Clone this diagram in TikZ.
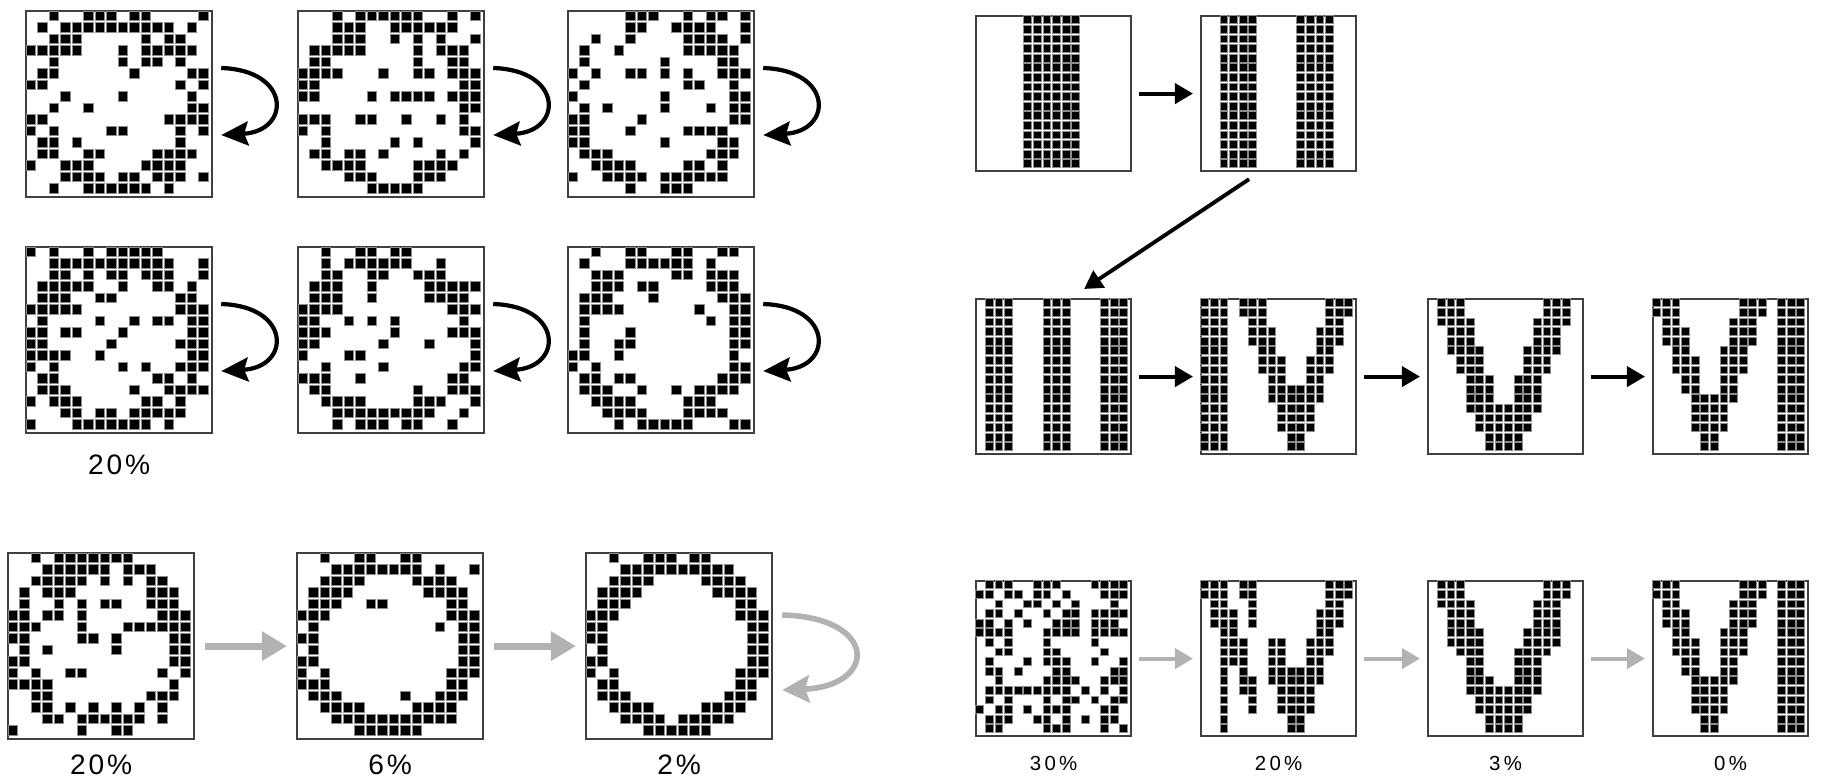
\documentclass[tikz,border=0pt]{standalone}
\usepackage{fontspec}
\setmainfont{Liberation Sans}
\newfontfamily\pctfont[LetterSpace=10]{Liberation Sans}
\newfontfamily\pctsmall[LetterSpace=16]{Liberation Sans}
\usetikzlibrary{arrows.meta,positioning}

\tikzset{
  bigpanel/.style={draw=black!75, line width=0.6pt, inner sep=0pt, minimum size=1.86cm, anchor=north west},
  smallpanel/.style={bigpanel, minimum size=1.55cm},
  pixcell/.style={fill=black, draw=black!45, line width=0.2pt},
  blackarrow/.style={line width=1.1pt, -{Triangle[length=0.18cm,width=0.2cm]}, shorten <=0.07cm, shorten >=0.07cm},
  grayarrow/.style={blackarrow, draw=black!30},
  fatgray/.style={line width=2pt, draw=black!30, -{Triangle[length=0.25cm,width=0.28cm]}, shorten <=0.1cm, shorten >=0.09cm},
  loopblack/.style={line width=1.2pt, -{Stealth[length=0.27cm,width=0.24cm,inset=0.04cm]}},
  loopgray/.style={line width=1.6pt, draw=black!30, -{Stealth[length=0.27cm,width=0.27cm,inset=0.04cm]}},
  pctbig/.style={font=\pctfont\fontsize{8}{9}\selectfont, inner sep=0pt},
  pctlow/.style={font=\pctsmall\fontsize{5.8}{6.5}\selectfont, inner sep=0pt}
}

% one string per row, X = black cell
\newcount\pixcol
\newcommand\pixgrid[4]{%
  \def\pixpitch{#2}\def\pixoff{#3}%
  \begin{scope}[shift={(#1.north west)}]
    \foreach \pixrow [count=\rowno from 0] in #4 {%
      \pixcol=0
      \expandafter\pixscan\pixrow\relax}
  \end{scope}}
\def\pixscan#1{%
  \ifx#1\relax\else
    \if#1X\fill[pixcell] ({\the\pixcol*\pixpitch+\pixoff},{\rowno*\pixpitch+\pixoff}) rectangle +(\pixpitch-1.8,\pixpitch-1.8);\fi
    \advance\pixcol by 1
    \expandafter\pixscan
  \fi}

\def\ringA{{--X--XXX-XX----X},{-X-XXXXXXXXXX-X-},{--XXX-----X-XX--},{XXXXX---X-XXXXX-},
  {--X-----X-XX-X--},{-XX------X----XX},{XX-----------X-X},{---X----X-----X-},
  {--X--X--------XX},{XX----------XXXX},{X-X----XX----X-X},{-XX-X--------X--},
  {-XX--XX----XXXX-},{X--XXX----XXXX--},{---XXXX-XX-XXX-X},{--X--XXXXXX-X---}}
\def\ringB{{---X-XXXXXX--X-X},{---XXX--XXXXXX--},{---XXX--X-X-X--X},{-XXXXX----X-XXX-},
  {-XX-------X--XX-},{XXXX---X--XX-XXX},{XX------------XX},{XX----X-XXXX-XXX},
  {--------------XX},{XXX--XX--X--X-X-},{X-X-----------XX},{--X-----X-X----X},
  {-XX-XX-X----X-X-},{--XXXX----XXXX--},{----XXX---XXX---},{------XXXXX-----}}
\def\ringC{{-----XXX--X-XX-X},{-----XX--XXXX--X},{--X--X----XXXX-X},{-X--X-----XXXXX-},
  {-X------X----XX-},{X-X--XX-X-X--XXX},{-X--------XX--X-},{X-------X-----XX},
  {-X-X----X---X-XX},{XX----X-------XX},{XX---X----XXXX--},{XX------X----XX-},
  {-XXX--------XXX-},{--XXXX----XX-X--},{X--XXXX-XXXXXX--},{-----X--XXX-----}}
\def\ringD{{X-X--X-XXXXX----},{--XXXXXXXXXXX--X},{--XX-X-XX-XXX--X},{-XXXXX--X--XX-X-},
  {-XXX--XX-----XX-},{XXXXX--------XXX},{-X----X--X-XX-XX},{XX-XX---X-----XX},
  {XX-----X-----XXX},{XXXX--X-------XX},{X-X-----X-X--XXX},{-XX--------XX-X-},
  {-XXX-----X--XXXX},{X-XXX-----XX-X--},{---XX-XX-XXXXX--},{X---XXXXXXX-X---}}
\def\ringE{{--X--XX-XX------},{--X-XXXXXX--X---},{--XX--XX--XXX---},{-XXX--X----XXXXX},
  {-XXX--X----XXXX-},{XXXX---------XXX},{XX--X-X-X-----X-},{XXX-----X----XXX},
  {XX-----X---X---X},{X---XX---------X},{--X----X------XX},{XXX--X-------XX-},
  {-XX-------X--XXX},{--XXXX----XXX--X},{---XXXXXXXXX--X-},{---X-XXX-XX--X--}}
\def\ringF{{--X--XX--XX--XX-},{-X---XXXXXX-X---},{--XXX----XX-XXX-},{--XXX-XX----XXX-},
  {-XXX---X-----XXX},{-XXXX------X--XX},{-X----------X-XX},{-X---X--------XX},
  {-X--XX--------XX},{XX--X---------X-},{X-X-----------XX},{-XX-XX-------XXX},
  {-XXX--X--X-XXXX-},{--XXXX----XXX---},{---XXXX---XXXX--},{----X-XXXXX---XX}}
\def\ringG{{--X-XXXXXXX-----},{---XXXXXX-XXX---},{--XXXXX-X-X-XX--},{-X-XXX------XXX-},
  {-X--X-X-XX--XXX-},{XX-XX-X------XXX},{XXX---X---XXXXXX},{XX----XX-X----XX},
  {-X-X-----X----XX},{XX------------XX},{X-X--XX------X-X},{XXXX----------X-},
  {--XX--------XXX-},{--XX-X-X-X-X-X--},{---XX-XXXXXX-X--},{X-----X--XX-----}}
\def\ringH{{--X--XX--XX-----},{---XXXXXXXX-X--X},{--XXXX----XXXX--},{-XXXX------XXXX-},
  {-XXX--XX-----XX-},{XXX----------XXX},{-X----------X-XX},{XX------------XX},
  {-X------------XX},{XX------------XX},{X-X----------XXX},{XXX----------XX-},
  {-XXX-----X--XXX-},{--XXXX----XXXX--},{---XXXXXXXXXXX--},{-----XXXXXX-----}}
\def\ringI{{--X--XXX-XX-----},{---XXXXXXXXXX---},{--XXXX----XXXX--},{-XXXX------XXXX-},
  {-XXX---------XX-},{XXX----------XXX},{XX------------XX},{XX------------XX},
  {-X------------XX},{XX------------XX},{X-X----------XXX},{-XX----------XX-},
  {-XXX--------XXX-},{--XXXX----XXXX--},{---XXXX-XXXXX---},{-----XXXXXX-----}}

\def\stripeA{{-----XXXXXX-----},{-----XXXXXX-----},{-----XXXXXX-----},{-----XXXXXX-----},
  {-----XXXXXX-----},{-----XXXXXX-----},{-----XXXXXX-----},{-----XXXXXX-----},
  {-----XXXXXX-----},{-----XXXXXX-----},{-----XXXXXX-----},{-----XXXXXX-----},
  {-----XXXXXX-----},{-----XXXXXX-----},{-----XXXXXX-----},{-----XXXXXX-----}}
\def\stripeB{{--XXXX----XXXX--},{--XXXX----XXXX--},{--XXXX----XXXX--},{--XXXX----XXXX--},
  {--XXXX----XXXX--},{--XXXX----XXXX--},{--XXXX----XXXX--},{--XXXX----XXXX--},
  {--XXXX----XXXX--},{--XXXX----XXXX--},{--XXXX----XXXX--},{--XXXX----XXXX--},
  {--XXXX----XXXX--},{--XXXX----XXXX--},{--XXXX----XXXX--},{--XXXX----XXXX--}}
\def\stripeC{{-XXX---XXX---XXX},{-XXX---XXX---XXX},{-XXX---XXX---XXX},{-XXX---XXX---XXX},
  {-XXX---XXX---XXX},{-XXX---XXX---XXX},{-XXX---XXX---XXX},{-XXX---XXX---XXX},
  {-XXX---XXX---XXX},{-XXX---XXX---XXX},{-XXX---XXX---XXX},{-XXX---XXX---XXX},
  {-XXX---XXX---XXX},{-XXX---XXX---XXX},{-XXX---XXX---XXX},{-XXX---XXX---XXX}}
\def\veeA{{XXX-XXX------XXX},{XXX-XXX------XXX},{XXX--XX------XX-},{XXX--XXX----XXX-},
  {XXX--XXX----XXX-},{XXX---XX----XX--},{XXX---XXX--XXX--},{XXX---XXX--XXX--},
  {XXX----XX--XX---},{XXX----XXXXXX---},{XXX----XXXXXX---},{XXX-----XXXX----},
  {XXX-----XXXX----},{XXX-----XXXX----},{XXX------XX-----},{XXX------XX-----}}
\def\veeB{{-XXX--------XXX-},{-XXX--------XXX-},{-XXXX------XXXX-},{--XXX------XXX--},
  {--XXX------XXX--},{--XXXX----XXXX--},{---XXX----XXX---},{---XXX----XXX---},
  {----XXX--XXX----},{----XXX--XXX----},{----XXX--XXX----},{----XXXXXXXX----},
  {-----XXXXXX-----},{-----XXXXXX-----},{------XXXX------},{------XXXX------}}
\def\veeC{{XXX------XXX-XXX},{XXX------XXX-XXX},{-XX-----XXX--XXX},{-XXX----XXX--XXX},
  {-XXX----XXX--XXX},{--XX---XXX---XXX},{--XXX--XXX---XXX},{--XXX--XXX---XXX},
  {---XX--XX----XXX},{---XX--XX----XXX},{----XXXXX----XXX},{----XXXX-----XXX},
  {----XXXX-----XXX},{----XXXX-----XXX},{-----XX------XXX},{-----XX------XXX}}
\def\veeD{{-XXX--------XXX-},{-XXX--------XXX-},{-XXXX------XXX--},{--XXX------XXX--},
  {--XXX------XXX--},{--XXXX----XXXX--},{--XXXX----XXXX--},{---XXX---XXXX---},
  {----XX---XXX----},{----XX---XXX----},{----XXX--XXX----},{----XXXXXXXX----},
  {-----XXXXXX-----},{-----XXXXXX-----},{------XXXX------},{------XXXX------}}
\def\noiseA{{-XXX--XXX---XXXX},{XX-XX-XX-X---XXX},{--X--XX-X-X---X-},{-XX-X--X-XX-XXXX},
  {XX-X-X--XXX-XXX-},{XXXX---XXXX-XXXX},{-X-X---X----X---},{--XX---XX----X--},
  {-X---X-XXX--X--X},{-XX-X---XX----XX},{--X----XXXX--XXX},{-XXXXXXXXX-X-X-X},
  {-X-X---X-XX-X-XX},{X-XX-X-XXX---XX-},{-XXX--XX-X-X-XX-},{-XX----XXX---X-X}}
\def\noiseB{{XXX-XX-------XXX},{XXX-XX-------XXX},{-XX--X-------XX-},{-XXX-X------XXX-},
  {-XXX-X------XXX-},{--XX--------XX--},{--XXX--XX--XXX--},{--XXX--XX--XXX--},
  {--XXX--XX--XX---},{--X-X--XXXXXX---},{--X-XX-XXXXXX---},{--X-XX--XXXX----},
  {--X--X--XXXX----},{--X--X--XXXX----},{--X------XX-----},{--X------XX-----}}

\begin{document}
\begin{tikzpicture}[x=0.01cm, y=-0.01cm]
\useasboundingbox (0,0) rectangle (1826,780);

% circle patterns
\node[bigpanel] (lt1) at (25,10) {};
\node[bigpanel] (lt2) at (297,10) {};
\node[bigpanel] (lt3) at (567,10) {};
\node[bigpanel] (lm1) at (25,246) {};
\node[bigpanel] (lm2) at (297,246) {};
\node[bigpanel] (lm3) at (567,246) {};
\node[bigpanel] (lb1) at (7,552) {};
\node[bigpanel] (lb2) at (296,552) {};
\node[bigpanel] (lb3) at (585,552) {};
\pixgrid{lt1}{11.5}{1}{\ringA}
\pixgrid{lt2}{11.5}{1}{\ringB}
\pixgrid{lt3}{11.5}{1}{\ringC}
\pixgrid{lm1}{11.5}{1}{\ringD}
\pixgrid{lm2}{11.5}{1}{\ringE}
\pixgrid{lm3}{11.5}{1}{\ringF}
\pixgrid{lb1}{11.5}{1}{\ringG}
\pixgrid{lb2}{11.5}{1}{\ringH}
\pixgrid{lb3}{11.5}{1}{\ringI}

\foreach \p in {lt1,lt2,lt3,lm1,lm2,lm3}
  \draw[loopblack] ([xshift=0.08cm,yshift=-0.58cm]\p.north east) .. controls +(70,2) and +(70,-4) .. ([xshift=0.08cm,yshift=-1.25cm]\p.north east);
\draw[loopgray] ([xshift=0.09cm,yshift=-0.63cm]lb3.north east) .. controls +(96,2) and +(96,-4) .. ([xshift=0.09cm,yshift=-1.38cm]lb3.north east);
\draw[fatgray] (lb1) -- (lb2);
\draw[fatgray] (lb2) -- (lb3);

\node[pctbig, below=0.2cm of lm1] (plm1) {20\%};
\node[pctbig, below=0.14cm of lb1] (plb1) {20\%};
\node[pctbig, below=0.14cm of lb2] (plb2) {6\%};
\node[pctbig, below=0.14cm of lb3] (plb3) {2\%};

% stripes and V
\node[smallpanel] (rt1) at (975,15) {};
\node[smallpanel] (rt2) at (1200,15) {};
\node[smallpanel] (rm1) at (975,298) {};
\node[smallpanel] (rm2) at (1200,298) {};
\node[smallpanel] (rm3) at (1427,298) {};
\node[smallpanel] (rm4) at (1652,298) {};
\node[smallpanel] (rb1) at (975,580) {};
\node[smallpanel] (rb2) at (1200,580) {};
\node[smallpanel] (rb3) at (1427,580) {};
\node[smallpanel] (rb4) at (1652,580) {};
\pixgrid{rt1}{9.6}{0.7}{\stripeA}
\pixgrid{rt2}{9.6}{0.7}{\stripeB}
\pixgrid{rm1}{9.6}{0.7}{\stripeC}
\pixgrid{rm2}{9.6}{0.7}{\veeA}
\pixgrid{rm3}{9.6}{0.7}{\veeB}
\pixgrid{rm4}{9.6}{0.7}{\veeC}
\pixgrid{rb1}{9.6}{0.7}{\noiseA}
\pixgrid{rb2}{9.6}{0.7}{\noiseB}
\pixgrid{rb3}{9.6}{0.7}{\veeD}
\pixgrid{rb4}{9.6}{0.7}{\veeC}

\draw[blackarrow] (rt1) -- (rt2);
\draw[blackarrow, shorten <=0pt, shorten >=0pt] ([xshift=-0.295cm,yshift=-0.07cm]rt2.south) -- ([xshift=0.305cm,yshift=0.09cm]rm1.north);
\draw[blackarrow] (rm1) -- (rm2);
\draw[blackarrow] (rm2) -- (rm3);
\draw[blackarrow] (rm3) -- (rm4);
\draw[grayarrow] (rb1) -- (rb2);
\draw[grayarrow] (rb2) -- (rb3);
\draw[grayarrow] (rb3) -- (rb4);

\node[pctlow, below=0.18cm of rb1] (prb1) {30\%};
\node[pctlow, below=0.18cm of rb2] (prb2) {20\%};
\node[pctlow, below=0.18cm of rb3] (prb3) {3\%};
\node[pctlow, below=0.18cm of rb4] (prb4) {0\%};
\end{tikzpicture}
\end{document}
